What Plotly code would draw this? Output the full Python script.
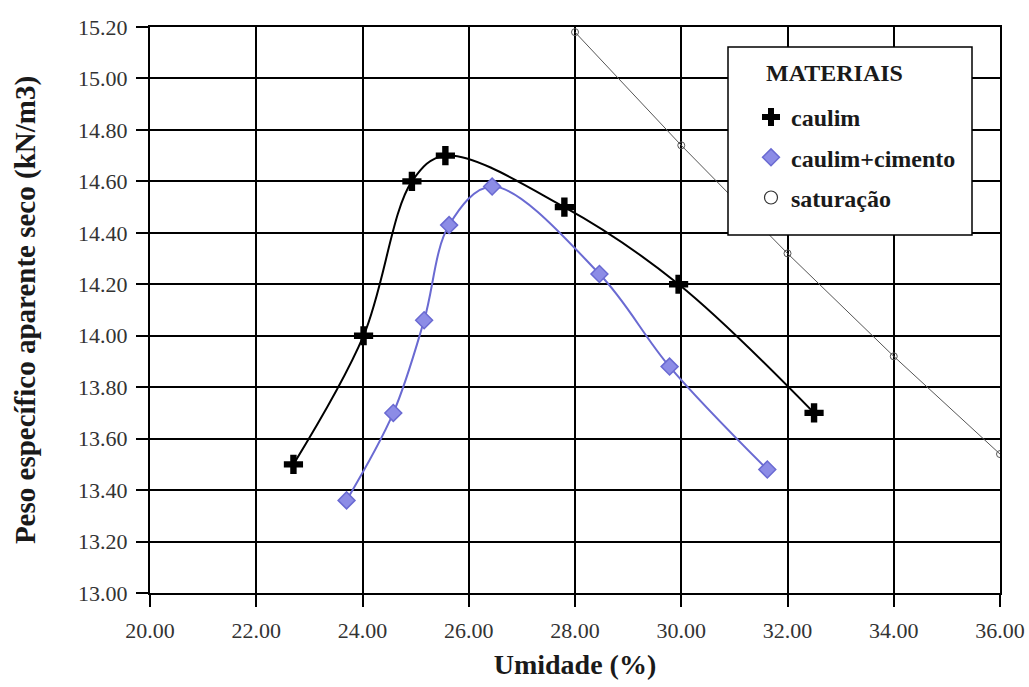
import plotly.graph_objects as go

# Compaction curves: dry unit weight vs. moisture content
caulim_umidade = [22.70, 24.02, 24.93, 25.56, 27.80, 29.95, 32.50]
caulim_peso = [13.50, 14.00, 14.60, 14.70, 14.50, 14.20, 13.70]

cimento_umidade = [23.70, 24.58, 25.16, 25.63, 26.44, 28.46, 29.78, 31.62]
cimento_peso = [13.36, 13.70, 14.06, 14.43, 14.58, 14.24, 13.88, 13.48]

saturacao_umidade = [28.0, 30.0, 32.0, 34.0, 36.0]
saturacao_peso = [15.18, 14.74, 14.32, 13.92, 13.54]

x_ticks = [20, 22, 24, 26, 28, 30, 32, 34, 36]
y_ticks = [13.0, 13.2, 13.4, 13.6, 13.8, 14.0, 14.2, 14.4, 14.6, 14.8, 15.0, 15.2]

SERIF = "Liberation Serif, Times New Roman, serif"
BLUE = "#6a6ad2"
BLUE_FILL = "#8c8ce6"
GRAY = "#555555"
TEXT = "#1a1a1a"

fig = go.Figure()

# Drawn curves (legend uses marker-only entries below)
fig.add_trace(go.Scatter(
    x=saturacao_umidade, y=saturacao_peso, mode="lines+markers",
    line=dict(color=GRAY, width=1),
    marker=dict(symbol="circle-open", size=7, color=GRAY, line=dict(width=1)),
    showlegend=False))
fig.add_trace(go.Scatter(
    x=cimento_umidade, y=cimento_peso, mode="lines+markers",
    line=dict(color=BLUE, width=2, shape="spline", smoothing=1.0),
    marker=dict(symbol="diamond", size=13, color=BLUE_FILL,
                line=dict(color=BLUE, width=1.5)),
    showlegend=False))
fig.add_trace(go.Scatter(
    x=caulim_umidade, y=caulim_peso, mode="lines+markers",
    line=dict(color="black", width=2, shape="spline", smoothing=1.0),
    marker=dict(symbol="cross", size=16, color="black"),
    showlegend=False))

# Legend entries (markers only)
fig.add_trace(go.Scatter(x=[None], y=[None], mode="markers", name="<b>caulim</b>",
                         marker=dict(symbol="cross", size=15, color="black"),
                         legendgroup="a"))
fig.add_trace(go.Scatter(x=[None], y=[None], mode="markers", name="<b>caulim+cimento</b>",
                         marker=dict(symbol="diamond", size=13, color=BLUE_FILL,
                                     line=dict(color=BLUE, width=1.5)),
                         legendgroup="b"))
fig.add_trace(go.Scatter(x=[None], y=[None], mode="markers", name="<b>saturação</b>",
                         marker=dict(symbol="circle-open", size=13, color="#333333",
                                     line=dict(width=1.2)),
                         legendgroup="c"))

# Legend frame, drawn above the curves
fig.add_shape(type="rect", xref="paper", yref="paper",
              x0=(728 - 150) / 850, x1=(972 - 150) / 850,
              y0=(593 - 235) / 566, y1=(593 - 47) / 566,
              fillcolor="white", line=dict(color="black", width=1.5), layer="above")
fig.add_annotation(text="<b>MATERIAIS</b>", xref="paper", yref="paper",
                   x=(764 - 150) / 850, y=(593 - 73) / 566, xanchor="left", yanchor="middle",
                   showarrow=False, font=dict(family=SERIF, size=24, color=TEXT))

fig.update_layout(
    width=1029, height=687,
    margin=dict(l=150, r=29, t=27, b=94),
    paper_bgcolor="white", plot_bgcolor="white",
    legend=dict(
        x=(751 - 150) / 850, y=(593 - 95) / 566, xanchor="left", yanchor="top",
        bgcolor="rgba(0,0,0,0)", borderwidth=0,
        font=dict(family=SERIF, size=24, color=TEXT),
        tracegroupgap=6, itemwidth=30,
    ),
    xaxis=dict(
        range=[20, 36], tickvals=x_ticks, tickformat=".2f", automargin=False,
        showgrid=True, gridcolor="black", gridwidth=2,
        showline=True, linecolor="black", linewidth=2, mirror=True,
        ticks="outside", ticklen=12, tickwidth=2, tickcolor="black",
        ticklabelstandoff=5,
        tickfont=dict(family=SERIF, size=22, color="#333333"),
        title=dict(text="<b>Umidade (%)</b>", font=dict(family=SERIF, size=28, color=TEXT),
                   standoff=12),
        zeroline=False,
    ),
    yaxis=dict(
        range=[13.0, 15.2], tickvals=y_ticks, tickformat=".2f", automargin=False,
        showgrid=True, gridcolor="black", gridwidth=2,
        showline=True, linecolor="black", linewidth=2, mirror=True,
        ticks="outside", ticklen=12, tickwidth=2, tickcolor="black",
        ticklabelstandoff=4,
        tickfont=dict(family=SERIF, size=22, color="#333333"),
        title=dict(text="<b>Peso específico aparente seco (kN/m3)</b>",
                   font=dict(family=SERIF, size=29, color=TEXT), standoff=34),
        zeroline=False,
    ),
)

fig.write_html("out.html")
